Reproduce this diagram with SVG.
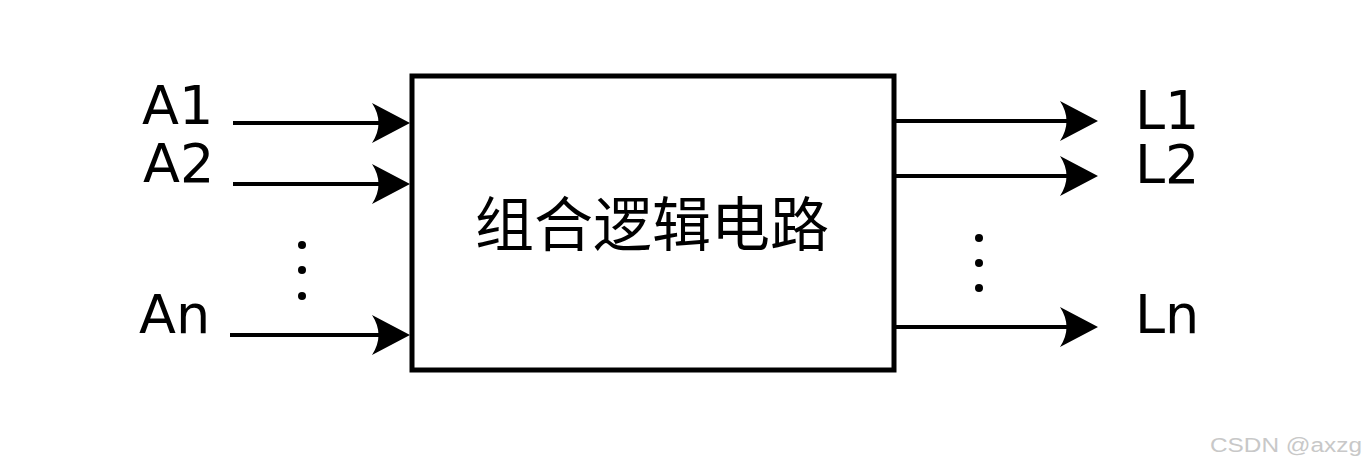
<svg xmlns="http://www.w3.org/2000/svg" width="1363" height="470" viewBox="0 0 1363 470">
  <style>
    .lbl { font-family: "DejaVu Sans", "Liberation Sans", sans-serif; font-size: 54px; fill: #000; }
    .cn { font-family: "Noto Sans CJK SC", "Noto Sans", sans-serif; font-size: 59px; fill: #000; }
    .wire { stroke: #000; stroke-width: 4; fill: none; }
    .box { stroke: #000; stroke-width: 5; fill: #fff; }
    .dot { fill: #000; }
    .wm { font-family: "Liberation Sans", Arial, sans-serif; font-size: 20px; fill: #c8c8c8; }
  </style>
  <defs>
    <marker id="arrow" viewBox="0 0 38 40" markerWidth="38" markerHeight="40" refX="18" refY="20" markerUnits="userSpaceOnUse" orient="auto">
      <path d="M0,0 L38,20 L0,40 Q13,20 0,0 Z" fill="#000"/>
    </marker>
  </defs>
  <rect width="1363" height="470" fill="#fff"/>

  <g id="logic-block">
    <rect class="box" x="412" y="76" width="482" height="294"/>
    <text class="cn" x="652" y="246" text-anchor="middle">组合逻辑电路</text>
  </g>

  <g id="input-A1"><text class="lbl" x="142" y="124">A1</text></g>
  <g id="input-A2"><text class="lbl" x="143" y="182">A2</text></g>
  <g id="input-An"><text class="lbl" x="139" y="333">An</text></g>
  <g id="input-dots">
    <circle class="dot" cx="302" cy="245" r="4"/>
    <circle class="dot" cx="302" cy="270" r="4"/>
    <circle class="dot" cx="302" cy="296" r="4"/>
  </g>

  <g id="output-L1"><text class="lbl" x="1135" y="129">L1</text></g>
  <g id="output-L2"><text class="lbl" x="1135" y="183">L2</text></g>
  <g id="output-Ln"><text class="lbl" x="1135" y="333">Ln</text></g>
  <g id="output-dots">
    <circle class="dot" cx="979" cy="238" r="4"/>
    <circle class="dot" cx="979" cy="263" r="4"/>
    <circle class="dot" cx="979" cy="288" r="4"/>
  </g>

  <g id="connectors">
    <line class="wire" x1="233" y1="123" x2="390" y2="123" marker-end="url(#arrow)"/>
    <line class="wire" x1="233" y1="184" x2="390" y2="184" marker-end="url(#arrow)"/>
    <line class="wire" x1="230" y1="335" x2="390" y2="335" marker-end="url(#arrow)"/>
    <line class="wire" x1="894" y1="121" x2="1078" y2="121" marker-end="url(#arrow)"/>
    <line class="wire" x1="894" y1="176" x2="1078" y2="176" marker-end="url(#arrow)"/>
    <line class="wire" x1="894" y1="327" x2="1078" y2="327" marker-end="url(#arrow)"/>
  </g>

  <text class="wm" x="1210" y="452" textLength="152" lengthAdjust="spacingAndGlyphs">CSDN @axzg</text>
</svg>
